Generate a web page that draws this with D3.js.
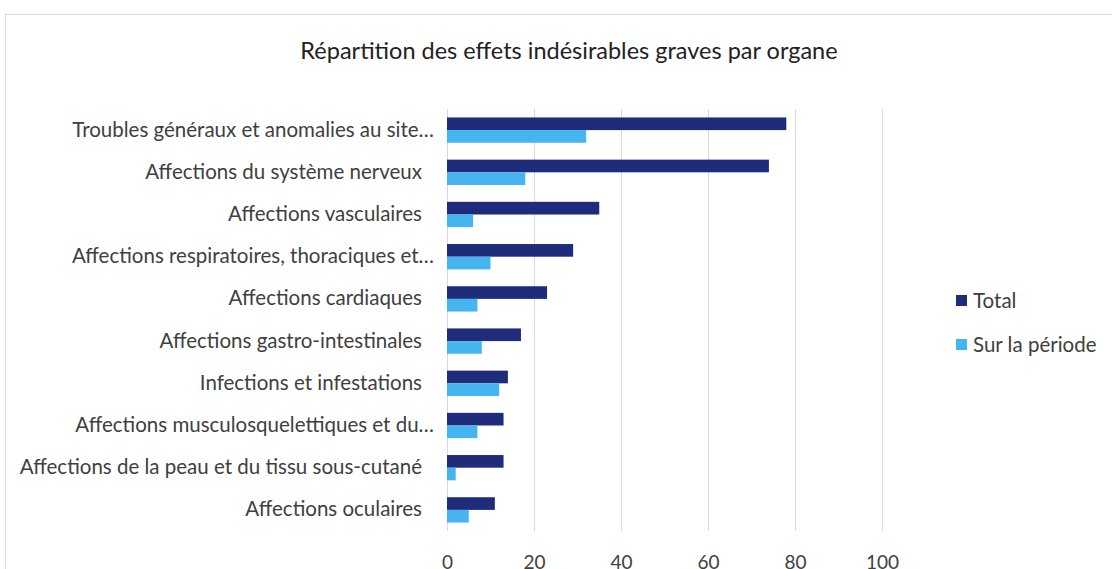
<!DOCTYPE html>
<meta charset="utf-8">
<style>
  body { margin: 0; background: #fff; }
  text { font-family: Lato, "Open Sans", sans-serif; fill: #404040; }
  .grid line { stroke: #d9d9d9; stroke-width: 1px; }
  .grid path { stroke-width: 0; }
  .axis path, .axis line { display: none; }
</style>
<body>
<script src="https://d3js.org/d3.v7.min.js"></script>
<script>
// data
var categories = [
  "Troubles généraux et anomalies au site…",
  "Affections du système nerveux",
  "Affections vasculaires",
  "Affections respiratoires, thoraciques et…",
  "Affections cardiaques",
  "Affections gastro-intestinales",
  "Infections et infestations",
  "Affections musculosquelettiques et du…",
  "Affections de la peau et du tissu sous-cutané",
  "Affections oculaires"
];
var total = [78, 74, 35, 29, 23, 17, 14, 13, 13, 11];
var surPeriode = [32, 18, 6, 10, 7, 8, 12, 7, 2, 5];
var seriesNames = ["Total", "Sur la période"];
var seriesColors = ["#1f2c7c", "#46b5ef"];
var xTicks = [0, 20, 40, 60, 80, 100];

var W = 1112, H = 569;
var plotL = 447, plotR = 882, plotT = 109, plotB = 531;
var fs = "20.5px";

var svg = d3.select("body").append("svg")
    .attr("width", W)
    .attr("height", H);

// chart frame, runs off the right and bottom
svg.append("rect")
    .attr("x", 5.5).attr("y", 14.5)
    .attr("width", W + 20).attr("height", H + 20)
    .attr("fill", "none")
    .attr("stroke", "#d9d9d9");

var x = d3.scaleLinear().domain([0, 100]).range([plotL, plotR]);
var y = d3.scaleBand().domain(categories).range([plotT, plotB]).paddingInner(0.4).paddingOuter(0.2);
var sub = d3.scaleBand().domain([0, 1]).range([0, y.bandwidth()]);

// gridlines
svg.append("g")
    .attr("class", "grid")
    .attr("transform", "translate(0," + plotB + ")")
    .call(d3.axisBottom(x).tickValues(xTicks).tickSize(-(plotB - plotT)).tickFormat(""));

var rows = categories.map(function(c, i) { return {cat: c, vals: [total[i], surPeriode[i]]}; });

var g = svg.selectAll(".row")
    .data(rows)
  .enter().append("g")
    .attr("class", "row")
    .attr("transform", function(d) { return "translate(0," + y(d.cat) + ")"; });

g.selectAll("rect")
    .data(function(d) { return d.vals; })
  .enter().append("rect")
    .attr("x", x(0))
    .attr("y", function(d, i) { return sub(i); })
    .attr("height", sub.bandwidth())
    .attr("width", function(d) { return x(d) - x(0); })
    .attr("fill", function(d, i) { return seriesColors[i]; });

// category axis (truncated labels run a bit further right, like Excel)
svg.append("g")
    .attr("class", "axis")
    .attr("transform", "translate(" + (plotL - 22) + ",0)")
    .call(d3.axisLeft(y).tickSize(0))
    .selectAll("text")
    .style("font-size", fs)
    .attr("dx", function(d) { return d.slice(-1) === "…" ? 12 : 0; })
    .attr("fill", "#404040");

// value axis
svg.append("g")
    .attr("class", "axis")
    .attr("transform", "translate(0," + (plotB + 21) + ")")
    .call(d3.axisBottom(x).tickValues(xTicks).tickSize(0))
    .selectAll("text")
    .style("font-size", "19px")
    .attr("fill", "#404040");

// title
svg.append("text")
    .attr("x", 569)
    .attr("y", 59)
    .attr("text-anchor", "middle")
    .style("font-size", "23.5px")
    .style("fill", "#222")
    .text("Répartition des effets indésirables graves par organe");

// legend
var legend = svg.selectAll(".legend")
    .data(seriesNames)
  .enter().append("g")
    .attr("class", "legend")
    .attr("transform", function(d, i) { return "translate(956," + (295 + i * 44) + ")"; });
legend.append("rect")
    .attr("width", 11).attr("height", 11)
    .attr("fill", function(d, i) { return seriesColors[i]; });
legend.append("text")
    .attr("x", 17).attr("y", 13)
    .style("font-size", fs)
    .text(function(d) { return d; });
</script>
</body>
